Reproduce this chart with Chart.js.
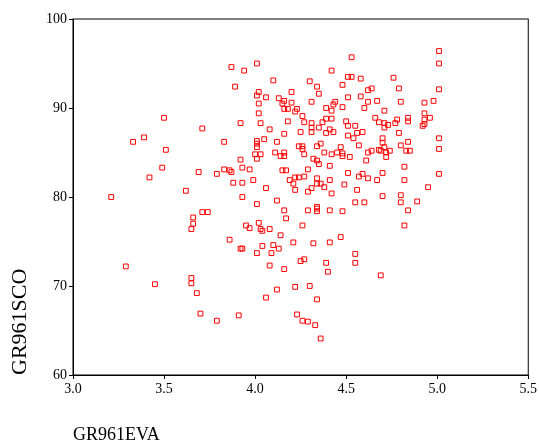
<!DOCTYPE html>
<html>
<head>
<meta charset="utf-8">
<script src="https://cdn.jsdelivr.net/npm/chart.js@4.4.1/dist/chart.umd.min.js"></script>
<style>
  html, body { margin: 0; padding: 0; background: #fff; }
  #wrap { width: 539px; height: 443px; }
</style>
</head>
<body>
<div id="wrap"><canvas id="scatterChart" width="539" height="443"></canvas></div>
<script>
const xTitle = 'GR961EVA';
const yTitle = 'GR961SCO';
const xTickValues = [3.0, 3.5, 4.0, 4.5, 5.0, 5.5];
const yTickValues = [60, 70, 80, 90, 100];

// GR961EVA per case
const evaValues = [
    3.87, 3.94, 4.01, 4.42, 3.89, 4.10, 4.30, 4.34, 4.35, 4.02,
    4.01, 4.06, 4.20, 4.13, 4.15, 4.16, 4.20, 4.02, 4.31, 4.16,
    4.18, 4.23, 4.22, 4.39, 4.43, 4.42, 4.02, 4.26, 3.92, 4.03,
    4.18, 4.27, 4.39, 4.42, 4.31, 4.37, 4.08, 4.31, 4.35, 4.41,
    4.16, 4.25, 4.31, 4.39, 4.43, 3.50, 3.71, 5.01, 5.01, 4.53,
    4.51, 4.53, 4.58, 4.76, 4.48, 4.64, 4.62, 4.79, 5.01, 4.58,
    4.51, 4.44, 4.67, 4.62, 4.80, 4.98, 4.93, 4.48, 4.60, 4.71,
    4.93, 4.96, 4.66, 4.84, 4.84, 4.78, 4.93, 4.50, 4.68, 4.71,
    4.73, 4.77, 4.93, 4.51, 4.55, 4.71, 4.56, 4.59, 4.79, 4.92,
    3.33, 3.39, 3.51, 3.49, 3.42, 3.21, 3.69, 3.79, 3.62, 3.71,
    3.74, 3.66, 3.66, 3.65, 3.83, 4.01, 4.01, 4.01, 4.05, 4.12,
    4.24, 4.26, 4.26, 4.34, 4.36, 4.00, 4.03, 4.01, 4.11, 4.14,
    4.16, 4.16, 4.27, 4.38, 4.42, 3.92, 4.32, 4.34, 4.35, 4.41,
    3.83, 3.86, 3.87, 3.93, 3.97, 4.15, 4.17, 4.29, 4.27, 4.22,
    4.24, 4.19, 4.21, 4.34, 4.34, 4.36, 4.41, 3.88, 3.93, 3.99,
    4.06, 4.22, 4.31, 4.29, 4.38, 4.42, 3.93, 4.12, 4.01, 4.16,
    4.29, 4.34, 4.34, 4.34, 4.41, 4.17, 4.02, 3.95, 3.97, 4.03,
    4.04, 4.08, 4.26, 4.14, 3.86, 4.21, 4.32, 4.41, 4.10, 4.04,
    4.13, 3.92, 3.93, 4.51, 4.54, 4.70, 5.01, 5.01, 4.70, 4.57,
    4.47, 4.45, 4.48, 4.48, 4.52, 4.62, 4.64, 4.68, 4.69, 4.71,
    4.72, 4.74, 4.72, 4.80, 4.84, 4.83, 4.85, 4.61, 4.82, 4.51,
    4.57, 4.59, 4.62, 4.67, 4.70, 4.82, 5.01, 4.49, 4.56, 4.95,
    4.70, 4.80, 4.80, 4.89, 4.55, 4.60, 4.84, 4.48, 4.82, 4.47,
    3.29, 3.45, 3.65, 3.65, 3.68, 3.70, 3.79, 4.01, 4.09, 4.08,
    4.16, 4.25, 4.27, 4.39, 4.40, 4.12, 4.06, 4.22, 4.30, 4.34,
    3.91, 4.23, 4.26, 4.29, 4.33, 4.36, 4.55, 4.55, 4.69
];

// GR961SCO per case
const scoValues = [
    94.6, 94.2, 95.0, 94.2, 92.4, 93.1, 93.0, 92.4, 91.6, 91.8,
    91.4, 91.2, 91.8, 91.1, 90.5, 90.8, 90.6, 90.5, 90.7, 89.9,
    89.9, 89.9, 89.6, 90.0, 90.4, 89.7, 89.4, 89.1, 88.3, 88.3,
    88.5, 88.4, 88.8, 88.8, 88.3, 88.4, 87.6, 87.8, 87.8, 87.6,
    87.1, 87.3, 87.3, 87.2, 87.3, 88.9, 87.7, 96.4, 95.0, 95.7,
    93.5, 93.5, 93.3, 93.4, 92.6, 92.2, 92.0, 92.2, 92.1, 91.3,
    91.2, 90.7, 90.8, 90.7, 90.7, 90.8, 90.6, 90.1, 90.0, 89.7,
    89.4, 88.9, 88.9, 88.9, 88.5, 88.7, 88.7, 88.5, 88.4, 88.3,
    88.1, 88.3, 88.2, 88.0, 88.0, 87.8, 87.2, 87.3, 87.2, 88.0,
    86.2, 86.7, 85.3, 83.3, 82.2, 80.0, 82.8, 82.6, 80.7, 78.3,
    78.3, 77.7, 77.0, 76.4, 86.2, 86.3, 86.0, 85.6, 86.5, 86.2,
    85.7, 85.7, 85.4, 85.7, 86.0, 84.8, 84.8, 84.3, 85.0, 84.6,
    85.0, 84.6, 84.8, 85.0, 84.8, 84.2, 84.3, 84.1, 83.7, 83.5,
    83.1, 83.0, 82.8, 83.3, 83.1, 83.0, 83.0, 83.1, 82.3, 82.2,
    82.2, 81.9, 81.5, 82.1, 81.5, 81.5, 81.9, 81.6, 81.6, 81.9,
    81.0, 80.8, 81.0, 80.6, 81.1, 80.4, 80.0, 79.6, 79.2, 78.5,
    78.5, 78.9, 78.7, 78.4, 78.5, 77.6, 77.1, 76.8, 76.5, 76.4,
    76.2, 76.4, 76.8, 75.7, 75.2, 74.9, 74.8, 74.9, 74.6, 74.5,
    74.2, 74.2, 74.2, 86.9, 86.6, 86.6, 86.6, 85.4, 86.1, 85.8,
    85.6, 85.0, 84.9, 84.6, 84.5, 85.0, 85.2, 85.3, 85.2, 85.6,
    85.0, 85.2, 84.5, 85.8, 86.2, 85.2, 85.2, 84.1, 83.4, 82.7,
    82.3, 82.6, 82.1, 81.9, 82.7, 81.9, 82.6, 81.4, 80.8, 81.1,
    80.1, 80.2, 79.4, 79.5, 79.4, 79.4, 78.5, 78.4, 76.8, 75.5,
    72.2, 70.2, 70.9, 70.3, 69.2, 66.9, 66.1, 73.7, 73.7, 72.3,
    71.9, 72.8, 73.0, 72.6, 71.6, 69.6, 68.7, 69.9, 70.0, 68.5,
    66.7, 66.8, 66.1, 66.0, 65.6, 64.1, 73.6, 72.6, 71.2
];

const points = evaValues.map(function (v, i) {
    return { x: v, y: scoValues[i] };
});

// plot frame (top and right sides too)
const frameBox = {
    id: 'frameBox',
    afterDraw: function (chart) {
        const a = chart.chartArea;
        const c = chart.ctx;
        c.save();
        c.strokeStyle = '#000';
        c.lineWidth = 1;
        c.strokeRect(a.left, a.top, a.right - a.left, a.bottom - a.top);
        c.restore();
    }
};

const tickFont = { family: "'Liberation Serif', serif", size: 14 };

const ctx = document.getElementById('scatterChart').getContext('2d');
const scatterChart = new Chart(ctx, {
    type: 'scatter',
    data: {
        datasets: [{
            label: yTitle,
            data: points,
            pointStyle: 'rect',
            pointRadius: 3.4,
            pointHoverRadius: 3.4,
            borderColor: '#ff0000',
            backgroundColor: 'rgba(255, 255, 255, 0)',
            borderWidth: 1
        }]
    },
    options: {
        responsive: false,
        animation: false,
        devicePixelRatio: 1,
        layout: {
            padding: { top: 19, right: 2, left: 9, bottom: 0 }
        },
        plugins: {
            legend: { display: false },
            tooltip: { enabled: false }
        },
        scales: {
            x: {
                type: 'linear',
                min: xTickValues[0],
                max: xTickValues[xTickValues.length - 1],
                afterBuildTicks: function (axis) {
                    axis.ticks = xTickValues.map(function (v) { return { value: v }; });
                },
                ticks: {
                    color: '#000',
                    font: tickFont,
                    padding: 2,
                    maxRotation: 0,
                    callback: function (v) { return Number(v).toFixed(1); }
                },
                grid: { drawOnChartArea: false, tickLength: 4, color: '#000' },
                border: { color: '#000' },
                title: {
                    display: true,
                    text: xTitle,
                    align: 'start',
                    color: '#000',
                    font: { family: "'Liberation Serif', serif", size: 18, lineHeight: 0.9 },
                    padding: { top: 27, bottom: 0 }
                }
            },
            y: {
                type: 'linear',
                min: yTickValues[0],
                max: yTickValues[yTickValues.length - 1],
                afterBuildTicks: function (axis) {
                    axis.ticks = yTickValues.map(function (v) { return { value: v }; });
                },
                ticks: {
                    color: '#000',
                    font: tickFont,
                    padding: 2
                },
                grid: { drawOnChartArea: false, tickLength: 4, color: '#000' },
                border: { color: '#000' },
                title: {
                    display: true,
                    text: yTitle,
                    align: 'start',
                    color: '#000',
                    font: { family: "'Liberation Serif', serif", size: 22, lineHeight: 1.0 },
                    padding: { top: 0, bottom: 13 }
                }
            }
        }
    },
    plugins: [frameBox]
});
</script>
</body>
</html>
